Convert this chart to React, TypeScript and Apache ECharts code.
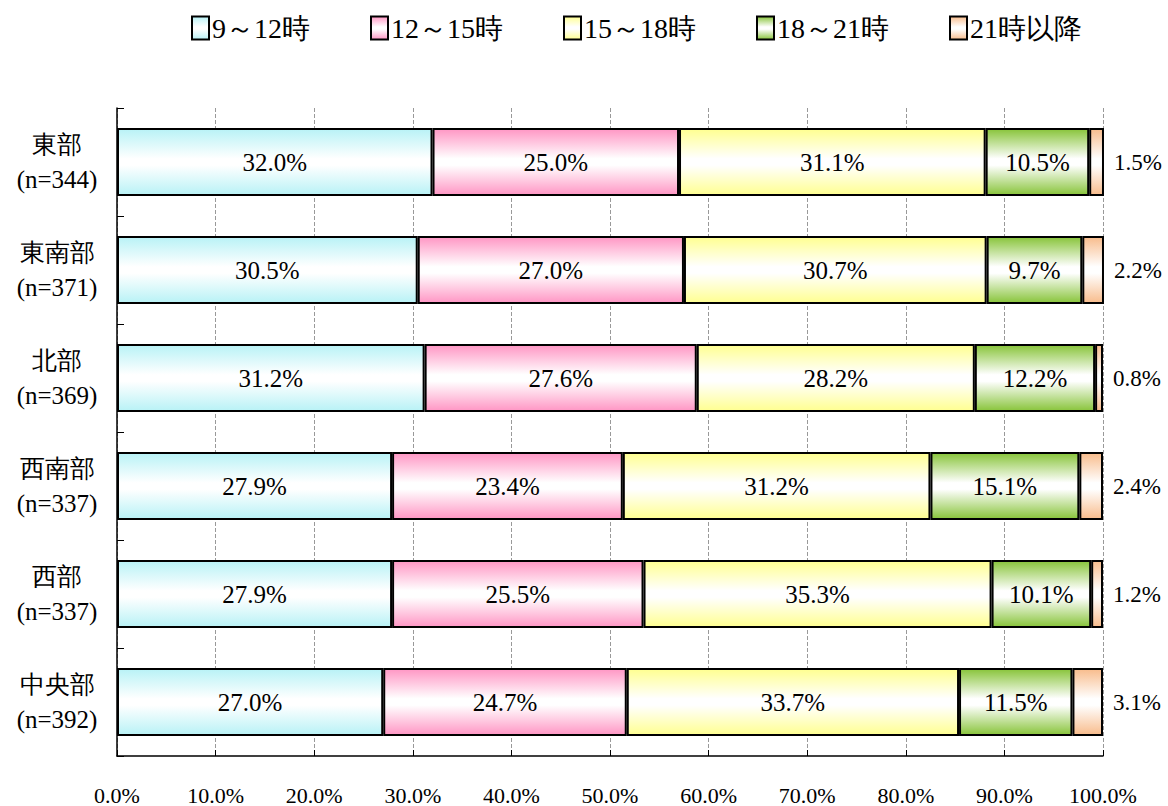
import React, { useEffect, useRef } from "react";
import * as echarts from "echarts";

const categories = ["東部\n(n=344)", "東南部\n(n=371)", "北部\n(n=369)", "西南部\n(n=337)", "西部\n(n=337)", "中央部\n(n=392)"];
const seriesNames = ["9～12時", "12～15時", "15～18時", "18～21時", "21時以降"];
const s9_12 = [32.0, 30.5, 31.2, 27.9, 27.9, 27.0];
const s12_15 = [25.0, 27.0, 27.6, 23.4, 25.5, 24.7];
const s15_18 = [31.1, 30.7, 28.2, 31.2, 35.3, 33.7];
const s18_21 = [10.5, 9.7, 12.2, 15.1, 10.1, 11.5];
const s21 = [1.5, 2.2, 0.8, 2.4, 1.2, 3.1];
const edgeColors = ["#b8f2f6", "#ff96c4", "#ffff90", "#88c43a", "#f8bc8c"];

const FONT = "Liberation Serif";

export default function App() {
  const ref = useRef<HTMLDivElement>(null);
  useEffect(() => {
    if (!ref.current) return;
    const chart = echarts.init(ref.current, undefined, { renderer: "svg" });
    const allData = [s9_12, s12_15, s15_18, s18_21, s21];
    const grad = (c: string) =>
      new echarts.graphic.LinearGradient(0, 0, 0, 1, [
        { offset: 0, color: c },
        { offset: 0.45, color: "#ffffff" },
        { offset: 0.55, color: "#ffffff" },
        { offset: 1, color: c },
      ]);
    const series = allData.map((d, i) => ({
      name: seriesNames[i],
      type: "bar",
      stack: "total",
      barWidth: 68,
      data: d,
      itemStyle: { color: grad(edgeColors[i]), borderColor: "#000", borderWidth: 2 },
      label: {
        show: true,
        position: i === 4 ? "right" : "inside",
        distance: 10,
        formatter: (p: any) => p.value.toFixed(1) + "%",
        color: "#000",
        fontSize: i === 4 ? 23 : 25,
        fontFamily: FONT,
        fontWeight: "normal",
      },
    }));
    chart.setOption({
      animation: false,
      textStyle: { fontFamily: FONT, fontWeight: "normal" },
      legend: {
        top: 9,
        left: 186,
        itemWidth: 17,
        itemHeight: 23,
        itemGap: 60,
        icon: "rect",
        textStyle: { fontSize: 28, fontFamily: FONT, color: "#000", fontWeight: "normal", padding: [0, 0, 0, -2] },
        data: seriesNames,
      },
      grid: { left: 117, right: 65, top: 108, bottom: 48 },
      xAxis: {
        type: "value",
        min: 0,
        max: 100,
        interval: 10,
        axisLine: { show: true, lineStyle: { color: "#000", width: 1.5 } },
        axisTick: { show: true, inside: true, length: 6, lineStyle: { color: "#000" } },
        axisLabel: {
          margin: 28,
          fontSize: 22,
          fontFamily: FONT,
          fontWeight: "normal",
          color: "#000",
          formatter: (v: number) => v.toFixed(1) + "%",
        },
        splitLine: { show: true, lineStyle: { color: "#999", type: "dashed", width: 1 } },
      },
      yAxis: {
        type: "category",
        inverse: true,
        data: categories,
        axisLine: { show: true, lineStyle: { color: "#000", width: 1.5 } },
        axisTick: { show: true, inside: true, length: 7, lineStyle: { color: "#000" } },
        axisLabel: {
          margin: 60,
          fontSize: 25,
          lineHeight: 35,
          fontFamily: FONT,
          fontWeight: "normal",
          color: "#000",
          align: "center",
          padding: [6, 0, 0, 0],
        },
      },
      series,
    });
    return () => chart.dispose();
  }, []);
  return (
    <div
      ref={ref}
      style={{ position: "fixed", left: 0, top: 0, width: 1168, height: 806, background: "#fff" }}
    />
  );
}
